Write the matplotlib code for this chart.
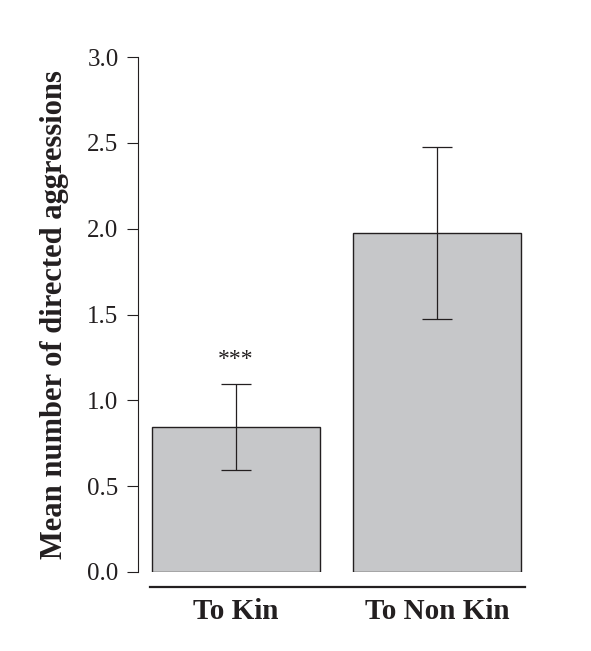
import matplotlib
matplotlib.use("Agg")
import matplotlib.pyplot as plt

categories = ["To Kin", "To Non Kin"]
means = [0.845, 1.975]
errors = [0.25, 0.5]
yticks = [0.0, 0.5, 1.0, 1.5, 2.0, 2.5, 3.0]
annotation = "***"

plt.rcParams['font.family'] = ['Liberation Serif', 'DejaVu Serif']
ink = "#231f20"

fig = plt.figure(figsize=(5.91, 6.51), dpi=100)
ax = fig.add_axes([138/591, 1-572/651, (525-138)/591, (572-57)/651])

for s in ['top', 'right']:
    ax.spines[s].set_visible(False)
ax.spines['left'].set_color(ink)
ax.spines['left'].set_linewidth(0.8)
ax.spines['bottom'].set_position(('outward', 11))
ax.spines['bottom'].set_linewidth(1.6)
ax.spines['bottom'].set_color(ink)

x = list(range(len(categories)))
ax.bar(x, means, width=0.834, color="#c6c7c9", edgecolor=ink, linewidth=1.0, zorder=2)
ax.errorbar(x, means, yerr=errors, fmt='none', ecolor=ink, elinewidth=0.9,
            capsize=10.5, capthick=0.9, zorder=3)
ax.text(x[0], means[0] + errors[0] + 0.08, annotation, ha='center', va='bottom',
        fontsize=17, color=ink)

ax.set_xlim(-0.486, 1.435)
ax.set_ylim(0, 3.0)
ax.spines['bottom'].set_bounds(-0.427, 1.434)
ax.set_yticks(yticks)
ax.set_yticklabels([f"{t:.1f}" for t in yticks])
ax.set_xticks(x)
ax.set_xticklabels(categories)
ax.tick_params(axis='y', direction='out', length=8, width=0.8, color=ink, pad=6,
               labelsize=18, labelcolor=ink)
ax.tick_params(axis='x', length=0, pad=8, labelsize=21, labelcolor=ink)
for lab in ax.get_xticklabels():
    lab.set_fontweight('bold')

ax.set_ylabel("Mean number of directed aggressions", fontsize=22, fontweight='bold',
              color=ink, labelpad=13)

fig.savefig("out.png", dpi=100)
